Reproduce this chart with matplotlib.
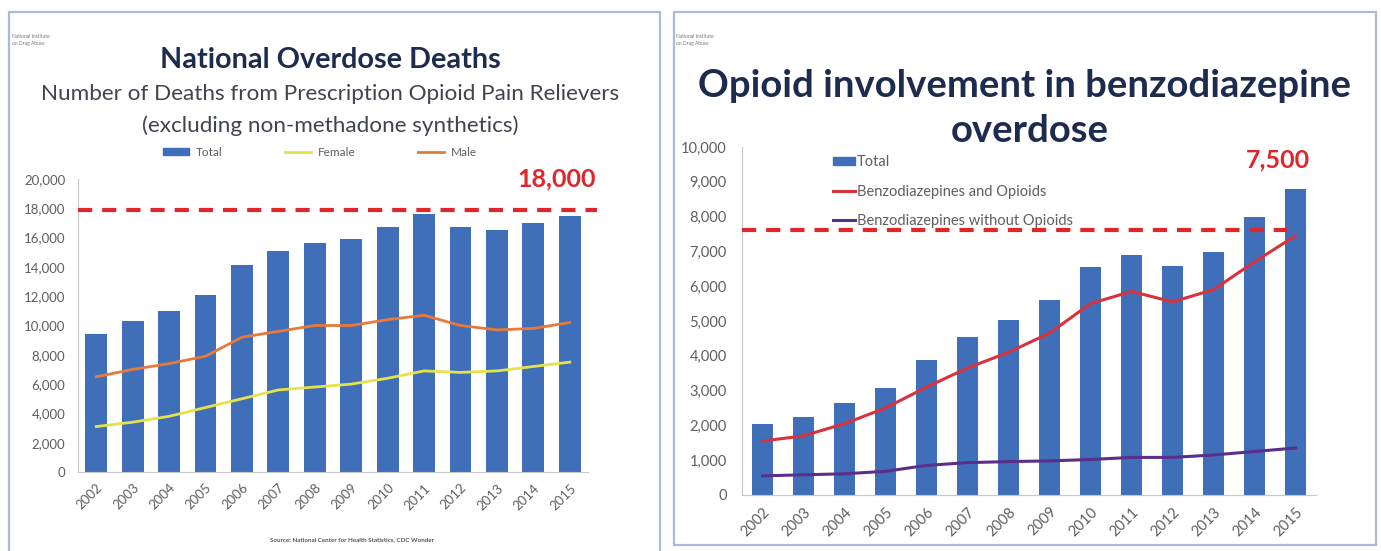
import matplotlib
matplotlib.use('Agg')
import matplotlib.pyplot as plt
from matplotlib.patches import Rectangle
from matplotlib.lines import Line2D
from matplotlib.ticker import StrMethodFormatter

plt.rcParams['font.family'] = ['Lato', 'DejaVu Sans']

W, H = 1381, 551

years = ['2002', '2003', '2004', '2005', '2006', '2007', '2008',
         '2009', '2010', '2011', '2012', '2013', '2014', '2015']

# left chart: prescription opioid pain relievers
opioid_total = [9400, 10300, 11000, 12100, 14100, 15100, 15600,
                15900, 16700, 17600, 16700, 16500, 17000, 17500]
opioid_female = [3100, 3400, 3800, 4400, 5000, 5600, 5800,
                 6000, 6400, 6900, 6800, 6900, 7200, 7500]
opioid_male = [6500, 7000, 7400, 7900, 9200, 9600, 10000,
               10000, 10400, 10700, 10000, 9700, 9800, 10200]
opioid_mark = 17850

# right chart: benzodiazepine overdose
benzo_total = [2030, 2240, 2650, 3080, 3870, 4530, 5030,
               5610, 6540, 6890, 6570, 6980, 7990, 8780]
benzo_with_opioids = [1550, 1700, 2050, 2500, 3100, 3650, 4100,
                      4650, 5500, 5850, 5550, 5900, 6700, 7450]
benzo_without_opioids = [550, 580, 610, 680, 850, 930, 960,
                         980, 1020, 1080, 1080, 1150, 1250, 1350]
benzo_mark = 7620

BLUE = '#3f6fb8'
NAVY = '#1d2b4f'
GRAY = '#5f5f5f'
RED = '#e0262b'


def px(x, y):
    return x / W, 1 - y / H


def make_axes(x0, x1, y_bottom, y_top):
    return fig.add_axes([x0 / W, 1 - y_bottom / H, (x1 - x0) / W, (y_bottom - y_top) / H])


def style_axes(ax, ymax, step, size, pad):
    ax.set_xlim(-0.5, len(years) - 0.5)
    ax.set_ylim(0, ymax)
    ax.set_yticks(range(0, ymax + 1, step))
    ax.yaxis.set_major_formatter(StrMethodFormatter('{x:,.0f}'))
    ax.set_xticks(range(len(years)))
    ax.set_xticklabels(years, rotation=45, ha='right', rotation_mode='anchor')
    ax.tick_params(length=0, labelsize=size, labelcolor=GRAY)
    ax.tick_params(axis='y', pad=pad)
    ax.tick_params(axis='x', pad=7)
    for s in ['top', 'right']:
        ax.spines[s].set_visible(False)
    for s in ['left', 'bottom']:
        ax.spines[s].set_color('#c8c8c8')
    ax.patch.set_alpha(0)


fig = plt.figure(figsize=(W / 100, H / 100), dpi=100)

# panel frames
fig.patches.append(Rectangle(px(9, 556), 651 / W, 544 / H, transform=fig.transFigure,
                             fill=False, edgecolor='#a8bcd8', lw=1.6))
fig.patches.append(Rectangle(px(674, 545), 702 / W, 533 / H, transform=fig.transFigure,
                             fill=False, edgecolor='#a8bcd8', lw=1.6))

# ---- left chart
ax1 = make_axes(78, 588, 472, 179)
x = range(len(years))
ax1.bar(x, opioid_total, width=0.6, color=BLUE, zorder=2)
ax1.plot(x, opioid_female, color='#e6e24a', lw=2, zorder=3)
ax1.plot(x, opioid_male, color='#e8793a', lw=2, zorder=3)
ax1.plot([-0.5, 13.75], [opioid_mark, opioid_mark], color=RED, lw=3,
         dashes=(3.4, 2.4), clip_on=False, zorder=4)
style_axes(ax1, 20000, 2000, 9.5, 9)
ax1.text(12.63, 20000, '18,000', color=RED, fontsize=18, fontweight='bold',
         ha='center', va='center')

fig.text(*px(330, 60), 'National Overdose Deaths', ha='center', va='center',
         fontsize=20.7, fontweight='bold', color=NAVY)
fig.text(*px(330, 94), 'Number of Deaths from Prescription Opioid Pain Relievers',
         ha='center', va='center', fontsize=16.2, color='#40444e')
fig.text(*px(330, 126), '(excluding non-methadone synthetics)',
         ha='center', va='center', fontsize=16.2, color='#40444e')
fig.text(*px(12, 40), 'National Institute\non Drug Abuse', ha='left', va='center',
         fontsize=3.5, color='#777777', linespacing=1.3)
fig.text(*px(352, 540), 'Source: National Center for Health Statistics, CDC Wonder',
         ha='center', va='center', fontsize=4.5, fontweight='bold', color='#555555')

leg1 = [Rectangle((0, 0), 1, 1, color=BLUE),
        Line2D([], [], color='#e6e24a', lw=2),
        Line2D([], [], color='#e8793a', lw=2)]
fig.legend(leg1, ['Total', 'Female', 'Male'], loc='center', bbox_to_anchor=px(320, 152),
           ncol=3, frameon=False, fontsize=8.5, labelcolor=GRAY, handlelength=2.2,
           handleheight=0.5, columnspacing=5.3, handletextpad=0.6)

# ---- right chart
ax2 = make_axes(742, 1316, 495, 147)
ax2.bar(x, benzo_total, width=0.5, color=BLUE, zorder=2)
ax2.plot(x, benzo_with_opioids, color='#d8323c', lw=2.2, zorder=3)
ax2.plot(x, benzo_without_opioids, color='#5a2f8c', lw=2.2, zorder=3)
ax2.plot([-0.5, 12.8], [benzo_mark, benzo_mark], color=RED, lw=3,
         dashes=(3.4, 2.4), clip_on=False, zorder=4)
style_axes(ax2, 10000, 1000, 10.5, 11)
ax2.text(12.57, 9626, '7,500', color=RED, fontsize=18, fontweight='bold',
         ha='center', va='center')

fig.text(*px(1025, 86), 'Opioid involvement in benzodiazepine', ha='center', va='center',
         fontsize=27.5, fontweight='bold', color=NAVY)
fig.text(*px(1030, 131), 'overdose', ha='center', va='center',
         fontsize=27.5, fontweight='bold', color=NAVY)
fig.text(*px(676, 40), 'National Institute\non Drug Abuse', ha='left', va='center',
         fontsize=3.5, color='#777777', linespacing=1.3)

leg2 = [Rectangle((0, 0), 1, 1, color=BLUE),
        Line2D([], [], color='#d8323c', lw=2.2),
        Line2D([], [], color='#5a2f8c', lw=2.2)]
fig.legend(leg2, ['Total', 'Benzodiazepines and Opioids', 'Benzodiazepines without Opioids'],
           loc='upper left', bbox_to_anchor=px(826, 148), frameon=False, fontsize=10.5,
           labelcolor=GRAY, handlelength=1.5, handleheight=0.45, handletextpad=0.1,
           labelspacing=1.05, borderpad=0)

fig.savefig('out.png', dpi=100)
